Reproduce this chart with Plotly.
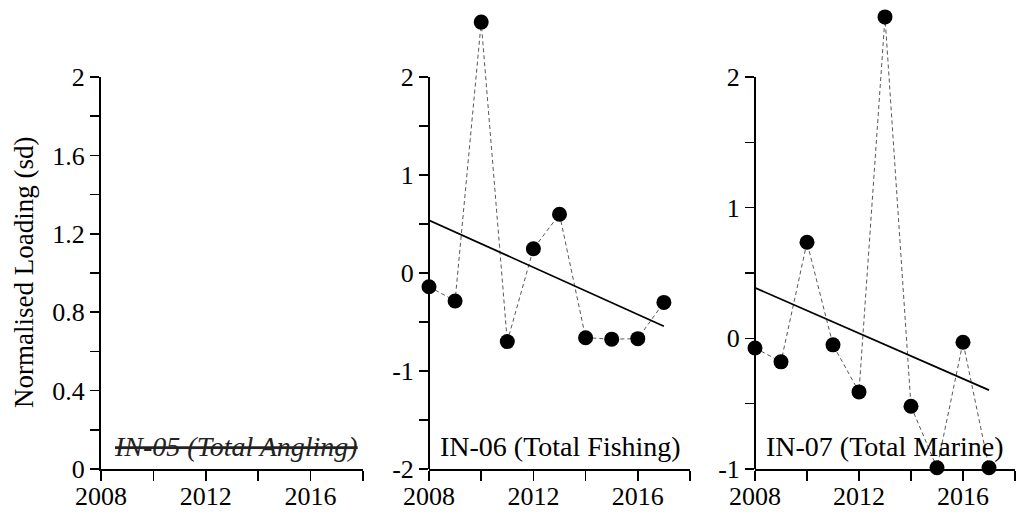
import numpy as np
import plotly.graph_objects as go

# ---- data ----
years = [2008, 2009, 2010, 2011, 2012, 2013, 2014, 2015, 2016, 2017]
in06_total_fishing = [-0.14, -0.285, 2.56, -0.70, 0.247, 0.60, -0.66, -0.675, -0.67, -0.30]
in07_total_marine = [-0.074, -0.18, 0.735, -0.05, -0.41, 2.46, -0.52, -0.99, -0.03, -0.99]

panel_labels = ["IN-05 (Total Angling)", "IN-06 (Total Fishing)", "IN-07 (Total Marine)"]
y_title = "Normalised Loading (sd)"

x_tickvals = [2008, 2010, 2012, 2014, 2016, 2018]
x_ticktext = ["2008", "", "2012", "", "2016", ""]

y1_tickvals = [0, 0.2, 0.4, 0.6, 0.8, 1.0, 1.2, 1.4, 1.6, 1.8, 2.0]
y1_ticktext = ["0", "", "0.4", "", "0.8", "", "1.2", "", "1.6", "", "2"]
y2_tickvals = [-2, -1.5, -1, -0.5, 0, 0.5, 1, 1.5, 2]
y2_ticktext = ["-2", "", "-1", "", "0", "", "1", "", "2"]
y3_tickvals = [-1, -0.5, 0, 0.5, 1, 1.5, 2]
y3_ticktext = ["-1", "", "0", "", "1", "", "2"]

FONT = "Liberation Serif, Times New Roman, serif"
FS = 26
FS_LABEL = 28
FS_TITLE = 27

# figure geometry
W, H = 1017, 512
ML, MR, MT, MB = 101, 2, 0, 43
PW = W - ML - MR
PH = H - MT - MB
top_px = 77  # pixel row of the y=2 tick (from top of figure)

fig = go.Figure()

def add_series(xa, ya, yvals):
    fig.add_trace(go.Scatter(
        x=years, y=yvals, xaxis=xa, yaxis=ya, mode="lines+markers",
        line=dict(color="#444444", width=0.9, dash="4px,3px"),
        marker=dict(color="black", size=15),
        cliponaxis=False, showlegend=False, hoverinfo="skip"))
    slope, intercept = np.polyfit(np.array(years, float), np.array(yvals, float), 1)
    tx = [years[0], years[-1]]
    ty = [slope * v + intercept for v in tx]
    fig.add_trace(go.Scatter(
        x=tx, y=ty, xaxis=xa, yaxis=ya, mode="lines",
        line=dict(color="black", width=1.8),
        cliponaxis=False, showlegend=False, hoverinfo="skip"))

# panel 1 has no data: invisible placeholder trace so the axes are drawn
fig.add_trace(go.Scatter(x=[None], y=[None], xaxis="x", yaxis="y",
                         showlegend=False, hoverinfo="skip"))
add_series("x2", "y2", in06_total_fishing)
add_series("x3", "y3", in07_total_marine)

axis_common = dict(showgrid=False, zeroline=False, ticks="outside", ticklen=9,
                   tickwidth=1.5, tickcolor="black", linecolor="black", linewidth=2,
                   tickfont=dict(family=FONT, size=FS, color="black"))

d1 = [0, 262 / PW]
d2 = [328 / PW, 589 / PW]
d3 = [654 / PW, 1.0]
y1dom_top = (PH - top_px + MT) / PH

# ranges extended above 2 so the peaks fit while y=2 stays aligned
px_per2 = (PH - (top_px - MT)) / 4.0
px_per3 = (PH - (top_px - MT)) / 3.0
y2_top = 2 + (top_px - MT) / px_per2
y3_top = 2 + (top_px - MT) / px_per3

for i, dom in zip(["", "2", "3"], [d1, d2, d3]):
    fig.layout["xaxis" + i] = dict(axis_common, domain=dom, range=[2008, 2018],
                                   tickmode="array", tickvals=x_tickvals,
                                   ticktext=x_ticktext, showline=True,
                                   ticklen=10, ticklabelstandoff=-7,
                                   anchor="y" + i)

fig.layout["yaxis"] = dict(axis_common, domain=[0, y1dom_top], range=[0, 2],
                           tickmode="array", tickvals=y1_tickvals, ticktext=y1_ticktext,
                           showline=True, anchor="x")
fig.layout["yaxis2"] = dict(axis_common, domain=[0, 1], range=[-2, y2_top],
                            tickmode="array", tickvals=y2_tickvals, ticktext=y2_ticktext,
                            showline=False, anchor="x2")
fig.layout["yaxis3"] = dict(axis_common, domain=[0, 1], range=[-1, y3_top],
                            tickmode="array", tickvals=y3_tickvals, ticktext=y3_ticktext,
                            showline=False, anchor="x3")

# y axis lines for panels 2 and 3 stop at y=2
shapes = []
for xa, ya, lo in [("x2", "y2", -2), ("x3", "y3", -1)]:
    shapes.append(dict(type="line", xref=xa + " domain", yref=ya, x0=0, x1=0,
                       y0=lo, y1=2, line=dict(color="black", width=2), layer="above"))

label_y = (PH + MT - 446) / PH
annotations = [
    dict(text='<i><span style="text-decoration:line-through">' + panel_labels[0] + '</span></i>',
         xref="x domain", yref="paper", x=0, y=label_y, xshift=11,
         xanchor="left", yanchor="middle", showarrow=False,
         font=dict(family=FONT, size=FS_LABEL, color="#222222")),
    dict(text=panel_labels[1], xref="x2 domain", yref="paper", x=0, y=label_y, xshift=9,
         xanchor="left", yanchor="middle", showarrow=False,
         font=dict(family=FONT, size=FS_LABEL, color="black")),
    dict(text=panel_labels[2], xref="x3 domain", yref="paper", x=0, y=label_y, xshift=9,
         xanchor="left", yanchor="middle", showarrow=False,
         font=dict(family=FONT, size=FS_LABEL, color="black")),
    dict(text=y_title, xref="paper", yref="paper", x=(24 - ML) / PW,
         y=(PH + MT - 273) / PH, xanchor="center", yanchor="middle",
         textangle=-90, showarrow=False,
         font=dict(family=FONT, size=FS_TITLE, color="black")),
]

fig.update_layout(width=W, height=H, margin=dict(l=ML, r=MR, t=MT, b=MB, autoexpand=False),
                  plot_bgcolor="white", paper_bgcolor="white",
                  shapes=shapes, annotations=annotations, hovermode=False,
                  font=dict(family=FONT, size=FS, color="black"))

fig.write_html("out.html", config={"displayModeBar": False, "staticPlot": True},
               post_script="document.body.style.margin='0px';document.body.style.overflow='hidden';")
